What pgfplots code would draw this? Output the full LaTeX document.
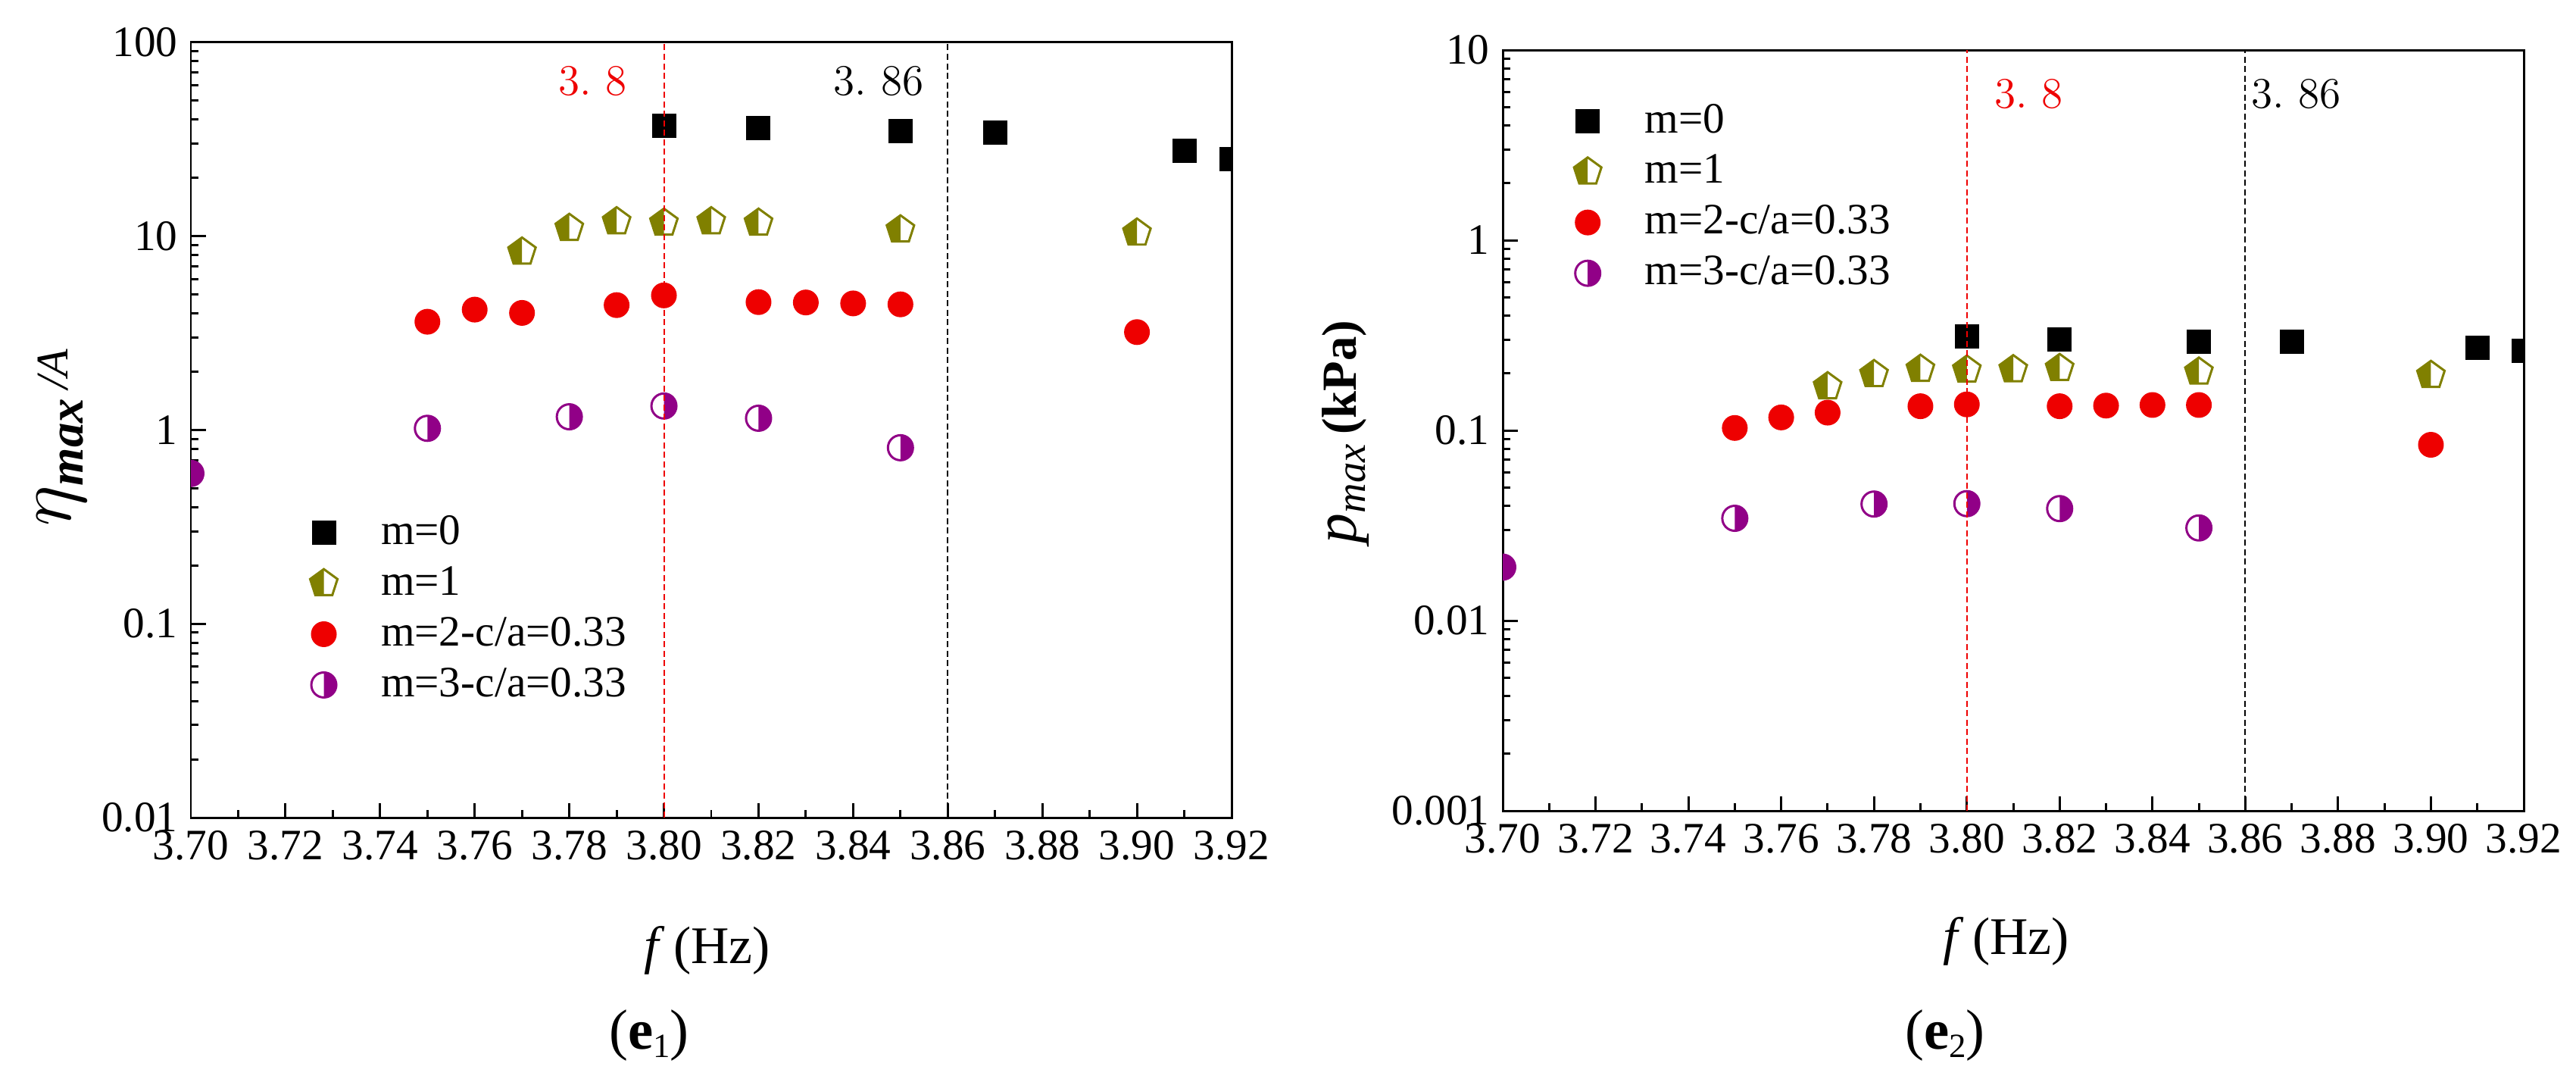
\documentclass[border=0pt]{standalone}
\usepackage{fontspec}
\setmainfont{Liberation Serif}
\newfontfamily\lmfont{Latin Modern Roman}
\usepackage{pgfplots}
\pgfplotsset{compat=1.18}

\definecolor{olivec}{RGB}{128,128,0}
\definecolor{redc}{RGB}{238,0,0}
\definecolor{purpc}{RGB}{145,0,135}

% pentagon, left half filled
\pgfdeclareplotmark{hpent}{%
  \pgfpathmoveto{\pgfpointpolar{90}{\pgfplotmarksize}}%
  \pgfpathlineto{\pgfpointpolar{162}{\pgfplotmarksize}}%
  \pgfpathlineto{\pgfpointpolar{234}{\pgfplotmarksize}}%
  \pgfpathlineto{\pgfpointpolar{306}{\pgfplotmarksize}}%
  \pgfpathlineto{\pgfpointpolar{18}{\pgfplotmarksize}}%
  \pgfpathclose
  \pgfsetfillcolor{white}\pgfusepathqfill
  \pgfpathmoveto{\pgfpointpolar{90}{\pgfplotmarksize}}%
  \pgfpathlineto{\pgfpointpolar{162}{\pgfplotmarksize}}%
  \pgfpathlineto{\pgfpointpolar{234}{\pgfplotmarksize}}%
  \pgfpathlineto{\pgfpoint{0pt}{-0.809\pgfplotmarksize}}%
  \pgfpathclose
  \pgfsetfillcolor{olivec}\pgfusepathqfill
  \pgfpathmoveto{\pgfpointpolar{90}{\pgfplotmarksize}}%
  \pgfpathlineto{\pgfpointpolar{162}{\pgfplotmarksize}}%
  \pgfpathlineto{\pgfpointpolar{234}{\pgfplotmarksize}}%
  \pgfpathlineto{\pgfpointpolar{306}{\pgfplotmarksize}}%
  \pgfpathlineto{\pgfpointpolar{18}{\pgfplotmarksize}}%
  \pgfpathclose
  \pgfusepathqstroke
}
% circle, right half filled
\pgfdeclareplotmark{hcirc}{%
  \pgfpathcircle{\pgfpointorigin}{\pgfplotmarksize}%
  \pgfsetfillcolor{white}\pgfusepathqfill
  \pgfpathmoveto{\pgfpoint{0pt}{-\pgfplotmarksize}}%
  \pgfpatharc{-90}{90}{\pgfplotmarksize}%
  \pgfpathclose
  \pgfsetfillcolor{purpc}\pgfusepathqfill
  \pgfpathcircle{\pgfpointorigin}{\pgfplotmarksize}%
  \pgfusepathqstroke
}

\tikzset{vl/.style={dash pattern=on 1.6bp off 0.9bp, line width=0.4pt}}

\pgfplotsset{
  mypanel/.style={
    scale only axis,
    anchor=south west,
    xmin=3.70, xmax=3.92,
    xtick={3.70,3.72,...,3.92},
    xticklabels={3.70,3.72,3.74,3.76,3.78,3.80,3.82,3.84,3.86,3.88,3.90,3.92},
    minor x tick num=1,
    xtick pos=bottom, ytick pos=left,
    tick align=inside,
    major tick length=3.9bp, minor tick length=2bp,
    axis line style={line width=0.6pt},
    every tick/.style={black, line width=0.6pt},
    tick label style={font=\fontsize{11.5}{12}\selectfont},
    clip marker paths=true,
    legend cell align=left,
    legend style={draw=none, fill=none, font=\fontsize{11.5}{12}\selectfont,
      row sep=0.3bp, anchor=north west,
      /tikz/every odd column/.append style={column sep=9.5bp}},
  },
  s0/.style={only marks, mark=square*, mark size=3bp, draw=black, fill=black},
  s1/.style={only marks, mark=hpent, mark size=3.8bp, mark options={draw=olivec, line width=0.6pt}},
  s2/.style={only marks, mark=*, mark size=3.2bp, draw=redc, fill=redc},
  s3/.style={only marks, mark=hcirc, mark size=3.3bp, mark options={draw=purpc, line width=0.6pt}},
}

\begin{document}
\begin{tikzpicture}
\useasboundingbox (0,0) rectangle (680.2bp,284.8bp);

\begin{axis}[mypanel, ymode=log,
  at={(50.4bp,69.0bp)}, width=274.8bp, height=204.6bp,
  ymin=0.01, ymax=100,
  ytick={0.01,0.1,1,10,100},
  yticklabels={0.01,0.1,1,10,100},
  xlabel={\fontsize{14}{16}\selectfont\textit{f}\,(Hz)},
  xlabel style={at={(axis description cs:0.496,-0.171)}, anchor=center},
  ylabel={{\fontsize{20}{22}\selectfont$\eta$}\raisebox{-0.7ex}{\fontsize{13}{15}\selectfont\textbf{\textit{max}}}\ \raisebox{0.2ex}{\fontsize{12}{14}\selectfont\textit{/A}}},
  ylabel style={at={(axis description cs:-0.124,0.49)}, anchor=center},
  legend style={at={(axis description cs:0.103,0.41)}},
]
\addplot[s0] coordinates {(3.80,37.3) (3.82,36.0) (3.85,34.8) (3.87,34.2) (3.91,27.5) (3.92,25.1)};
\addlegendentry{m=0}
\addplot[s1] coordinates {(3.77,8.3) (3.78,11.0) (3.79,11.9) (3.80,11.7) (3.81,11.9) (3.82,11.7) (3.85,10.8) (3.90,10.4)};
\addlegendentry{m=1}
\addplot[s2] coordinates {(3.75,3.62) (3.76,4.18) (3.77,4.02) (3.79,4.41) (3.80,4.95) (3.82,4.57) (3.83,4.55) (3.84,4.50) (3.85,4.45) (3.90,3.20)};
\addlegendentry{m=2-c/a=0.33}
\addplot[s3] coordinates {(3.70,0.597) (3.75,1.02) (3.78,1.17) (3.80,1.33) (3.82,1.15) (3.85,0.81)};
\addlegendentry{m=3-c/a=0.33}
\draw[vl, redc] (axis cs:3.80,0.01) -- (axis cs:3.80,100);
\draw[vl, black] (axis cs:3.86,0.01) -- (axis cs:3.86,100);
\node[text=redc, font=\lmfont\fontsize{11.5}{12}\selectfont] at (axis cs:3.785,63) {3.\ 8};
\node[font=\lmfont\fontsize{11.5}{12}\selectfont] at (axis cs:3.8454,63) {3.\ 86};
\end{axis}

\begin{axis}[mypanel, ymode=log,
  at={(396.8bp,70.8bp)}, width=269.6bp, height=200.8bp,
  ymin=0.001, ymax=10,
  ytick={0.001,0.01,0.1,1,10},
  yticklabels={0.001,0.01,0.1,1,10},
  xlabel={\fontsize{14}{16}\selectfont\textit{f}\,(Hz)},
  xlabel style={at={(axis description cs:0.493,-0.172)}, anchor=center},
  ylabel={{\fontsize{16}{18}\selectfont\textit{p}}{\fontsize{11}{12}\selectfont\raisebox{-0.5ex}{\textit{max}}}\ {\fontsize{13}{15}\selectfont\textbf{(kPa)}}},
  ylabel style={at={(axis description cs:-0.154,0.498)}, anchor=center},
  legend style={at={(axis description cs:0.058,0.95)}},
]
\addplot[s0] coordinates {(3.80,0.312) (3.82,0.302) (3.85,0.292) (3.87,0.292) (3.91,0.271) (3.92,0.262)};
\addlegendentry{m=0}
\addplot[s1] coordinates {(3.77,0.170) (3.78,0.197) (3.79,0.210) (3.80,0.208) (3.81,0.209) (3.82,0.212) (3.85,0.203) (3.90,0.195)};
\addlegendentry{m=1}
\addplot[s2] coordinates {(3.75,0.103) (3.76,0.117) (3.77,0.124) (3.79,0.134) (3.80,0.137) (3.82,0.134) (3.83,0.135) (3.84,0.136) (3.85,0.136) (3.90,0.084)};
\addlegendentry{m=2-c/a=0.33}
\addplot[s3] coordinates {(3.70,0.0191) (3.75,0.0345) (3.78,0.0410) (3.80,0.0412) (3.82,0.0388) (3.85,0.0307)};
\addlegendentry{m=3-c/a=0.33}
\draw[vl, redc] (axis cs:3.80,0.001) -- (axis cs:3.80,10);
\draw[vl, black] (axis cs:3.86,0.001) -- (axis cs:3.86,10);
\node[text=redc, font=\lmfont\fontsize{11.5}{12}\selectfont] at (axis cs:3.8134,5.87) {3.\ 8};
\node[font=\lmfont\fontsize{11.5}{12}\selectfont] at (axis cs:3.871,5.87) {3.\ 86};
\end{axis}

\node[font=\fontsize{15}{17}\selectfont] at (171.4bp,11.4bp) {(\textbf{e}\raisebox{-0.3ex}{\fontsize{9}{10}\selectfont 1})};
\node[font=\fontsize{15}{17}\selectfont] at (513.6bp,11.4bp) {(\textbf{e}\raisebox{-0.3ex}{\fontsize{9}{10}\selectfont 2})};
\end{tikzpicture}
\end{document}
